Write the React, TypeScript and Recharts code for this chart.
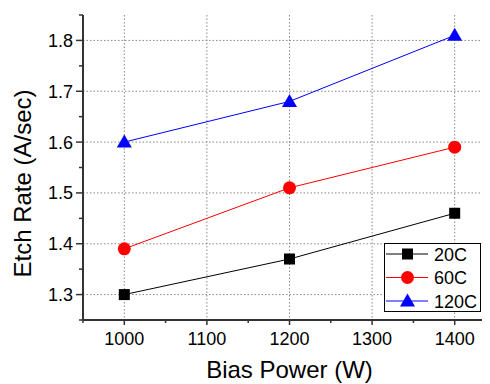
import React from 'react';
import { LineChart, Line, XAxis, YAxis, CartesianGrid, Legend } from 'recharts';

// Bias power (W) and etch rate (A/sec) per chuck temperature
const power = [1000, 1200, 1400];
const rate20C = [1.3, 1.37, 1.46];
const rate60C = [1.39, 1.51, 1.59];
const rate120C = [1.6, 1.68, 1.81];

const xTicks = [950, 1000, 1050, 1100, 1150, 1200, 1250, 1300, 1350, 1400, 1450];
const xMajor = [1000, 1100, 1200, 1300, 1400];
const yTicks = [1.25, 1.3, 1.35, 1.4, 1.45, 1.5, 1.55, 1.6, 1.65, 1.7, 1.75, 1.8, 1.85];
const yMajor = [1.3, 1.4, 1.5, 1.6, 1.7, 1.8];

const data = power.map((p, i) => ({
  power: p,
  r20: rate20C[i],
  r60: rate60C[i],
  r120: rate120C[i],
}));

const FONT = '"Liberation Sans", Arial, sans-serif';
const AXIS = '#333';

const Marker = ({ shape, cx, cy, color }: any) => {
  if (shape === 'square') return <rect x={cx - 5.5} y={cy - 5.5} width={11} height={11} fill={color} />;
  if (shape === 'circle') return <circle cx={cx} cy={cy} r={6.5} fill={color} />;
  return <polygon points={`${cx},${cy - 7.5} ${cx + 7.5},${cy + 5.5} ${cx - 7.5},${cy + 5.5}`} fill={color} />;
};

const series = [
  { key: 'r20', name: '20C', color: '#000000', shape: 'square' },
  { key: 'r60', name: '60C', color: '#ff0000', shape: 'circle' },
  { key: 'r120', name: '120C', color: '#0000ff', shape: 'triangle' },
];

const isMajorX = (v: number) => xMajor.includes(v);
const isMajorY = (v: number) => yMajor.some((m) => Math.abs(m - v) < 1e-6);

const BottomTick = ({ x, y, payload }: any) => {
  const major = isMajorX(payload.value);
  return (
    <g>
      <line x1={x} x2={x} y1={y} y2={y + (major ? 5 : 3)} stroke={AXIS} strokeWidth={1.5} />
      {major && (
        <text x={x} y={y + 25} textAnchor="middle" fontSize={18} fontFamily={FONT} fill="#000">
          {payload.value}
        </text>
      )}
    </g>
  );
};

const TopTick = ({ x, y, payload }: any) => {
  const major = isMajorX(payload.value);
  return <line x1={x} x2={x} y1={y} y2={y + (major ? 5 : 3)} stroke={AXIS} strokeWidth={1.5} />;
};

const LeftTick = ({ x, y, payload }: any) => {
  const major = isMajorY(payload.value);
  return (
    <g>
      <line x1={x - (major ? 7 : 4)} x2={x} y1={y} y2={y} stroke={AXIS} strokeWidth={1.5} />
      {major && (
        <text x={x - 10} y={y + 6.5} textAnchor="end" fontSize={18} fontFamily={FONT} fill="#000">
          {payload.value.toFixed(1)}
        </text>
      )}
    </g>
  );
};

const LegendBox = ({ payload }: any) => {
  const names = (payload || []).map((e: any) => e.value);
  const items = series.filter((s) => names.length === 0 || names.includes(s.name));
  return (
    <svg width={97} height={69} style={{ display: 'block' }}>
      <rect x={0.5} y={0.5} width={96} height={68} fill="#fff" stroke="#000" />
      {items.map((s, i) => {
        const cy = 11 + i * 23.5;
        return (
          <g key={s.name}>
            <line x1={2} x2={44} y1={cy} y2={cy} stroke={s.color} strokeWidth={1} />
            <Marker shape={s.shape} cx={23.5} cy={cy} color={s.color} />
            <text x={50} y={cy + 6.5} fontSize={18} fontFamily={FONT} fill="#000">
              {s.name}
            </text>
          </g>
        );
      })}
    </svg>
  );
};

export default function App() {
  return (
    <div style={{ width: 482, height: 376, overflow: 'hidden' }}>
      <LineChart width={500} height={376} data={data} margin={{ top: 7, right: 12, bottom: 0, left: 0 }}>
        <CartesianGrid
          stroke="#888"
          strokeDasharray="1.5 2"
          verticalValues={xMajor}
          horizontalValues={yMajor}
        />
        <XAxis
          dataKey="power"
          type="number"
          domain={[950, 1450]}
          ticks={xTicks}
          interval={0}
          height={64}
          tickSize={0}
          tickMargin={0}
          tickLine={false}
          tick={<BottomTick />}
          axisLine={{ stroke: AXIS, strokeWidth: 2 }}
          label={{
            content: ({ viewBox }: any) => (
              <text
                x={viewBox.x + viewBox.width / 2}
                y={viewBox.y + 58}
                textAnchor="middle"
                fontSize={24}
                fontFamily={FONT}
                fill="#000"
              >
                Bias Power (W)
              </text>
            ),
          }}
        />
        <XAxis
          xAxisId="top"
          orientation="top"
          dataKey="power"
          type="number"
          domain={[950, 1450]}
          ticks={xTicks}
          interval={0}
          height={0}
          tickSize={0}
          tickMargin={0}
          tickLine={false}
          tick={<TopTick />}
          axisLine={{ stroke: AXIS, strokeWidth: 2 }}
        />
        <YAxis
          type="number"
          domain={[1.25, 1.85]}
          ticks={yTicks}
          interval={0}
          width={75}
          tickSize={0}
          tickMargin={0}
          tickLine={false}
          tick={<LeftTick />}
          axisLine={{ stroke: AXIS, strokeWidth: 2 }}
          label={{
            content: ({ viewBox }: any) => {
              const cx = viewBox.x + 14;
              const cy = viewBox.y + viewBox.height / 2 + 16;
              return (
                <text
                  x={cx}
                  y={cy}
                  transform={`rotate(-90, ${cx}, ${cy})`}
                  textAnchor="middle"
                  dominantBaseline="central"
                  fontSize={24}
                  fontFamily={FONT}
                  fill="#000"
                >
                  Etch Rate (A/sec)
                </text>
              );
            },
          }}
        />
        <Legend
          layout="vertical"
          align="center"
          verticalAlign="middle"
          wrapperStyle={{ left: 376, top: 235, width: 97, height: 69 }}
          content={<LegendBox />}
        />
        {series.map((s) => (
          <Line
            key={s.key}
            dataKey={s.key}
            name={s.name}
            stroke={s.color}
            strokeWidth={1}
            isAnimationActive={false}
            dot={(p: any) => <Marker key={`${s.key}-${p.index}`} shape={s.shape} cx={p.cx} cy={p.cy} color={s.color} />}
            activeDot={false}
          />
        ))}
      </LineChart>
    </div>
  );
}
